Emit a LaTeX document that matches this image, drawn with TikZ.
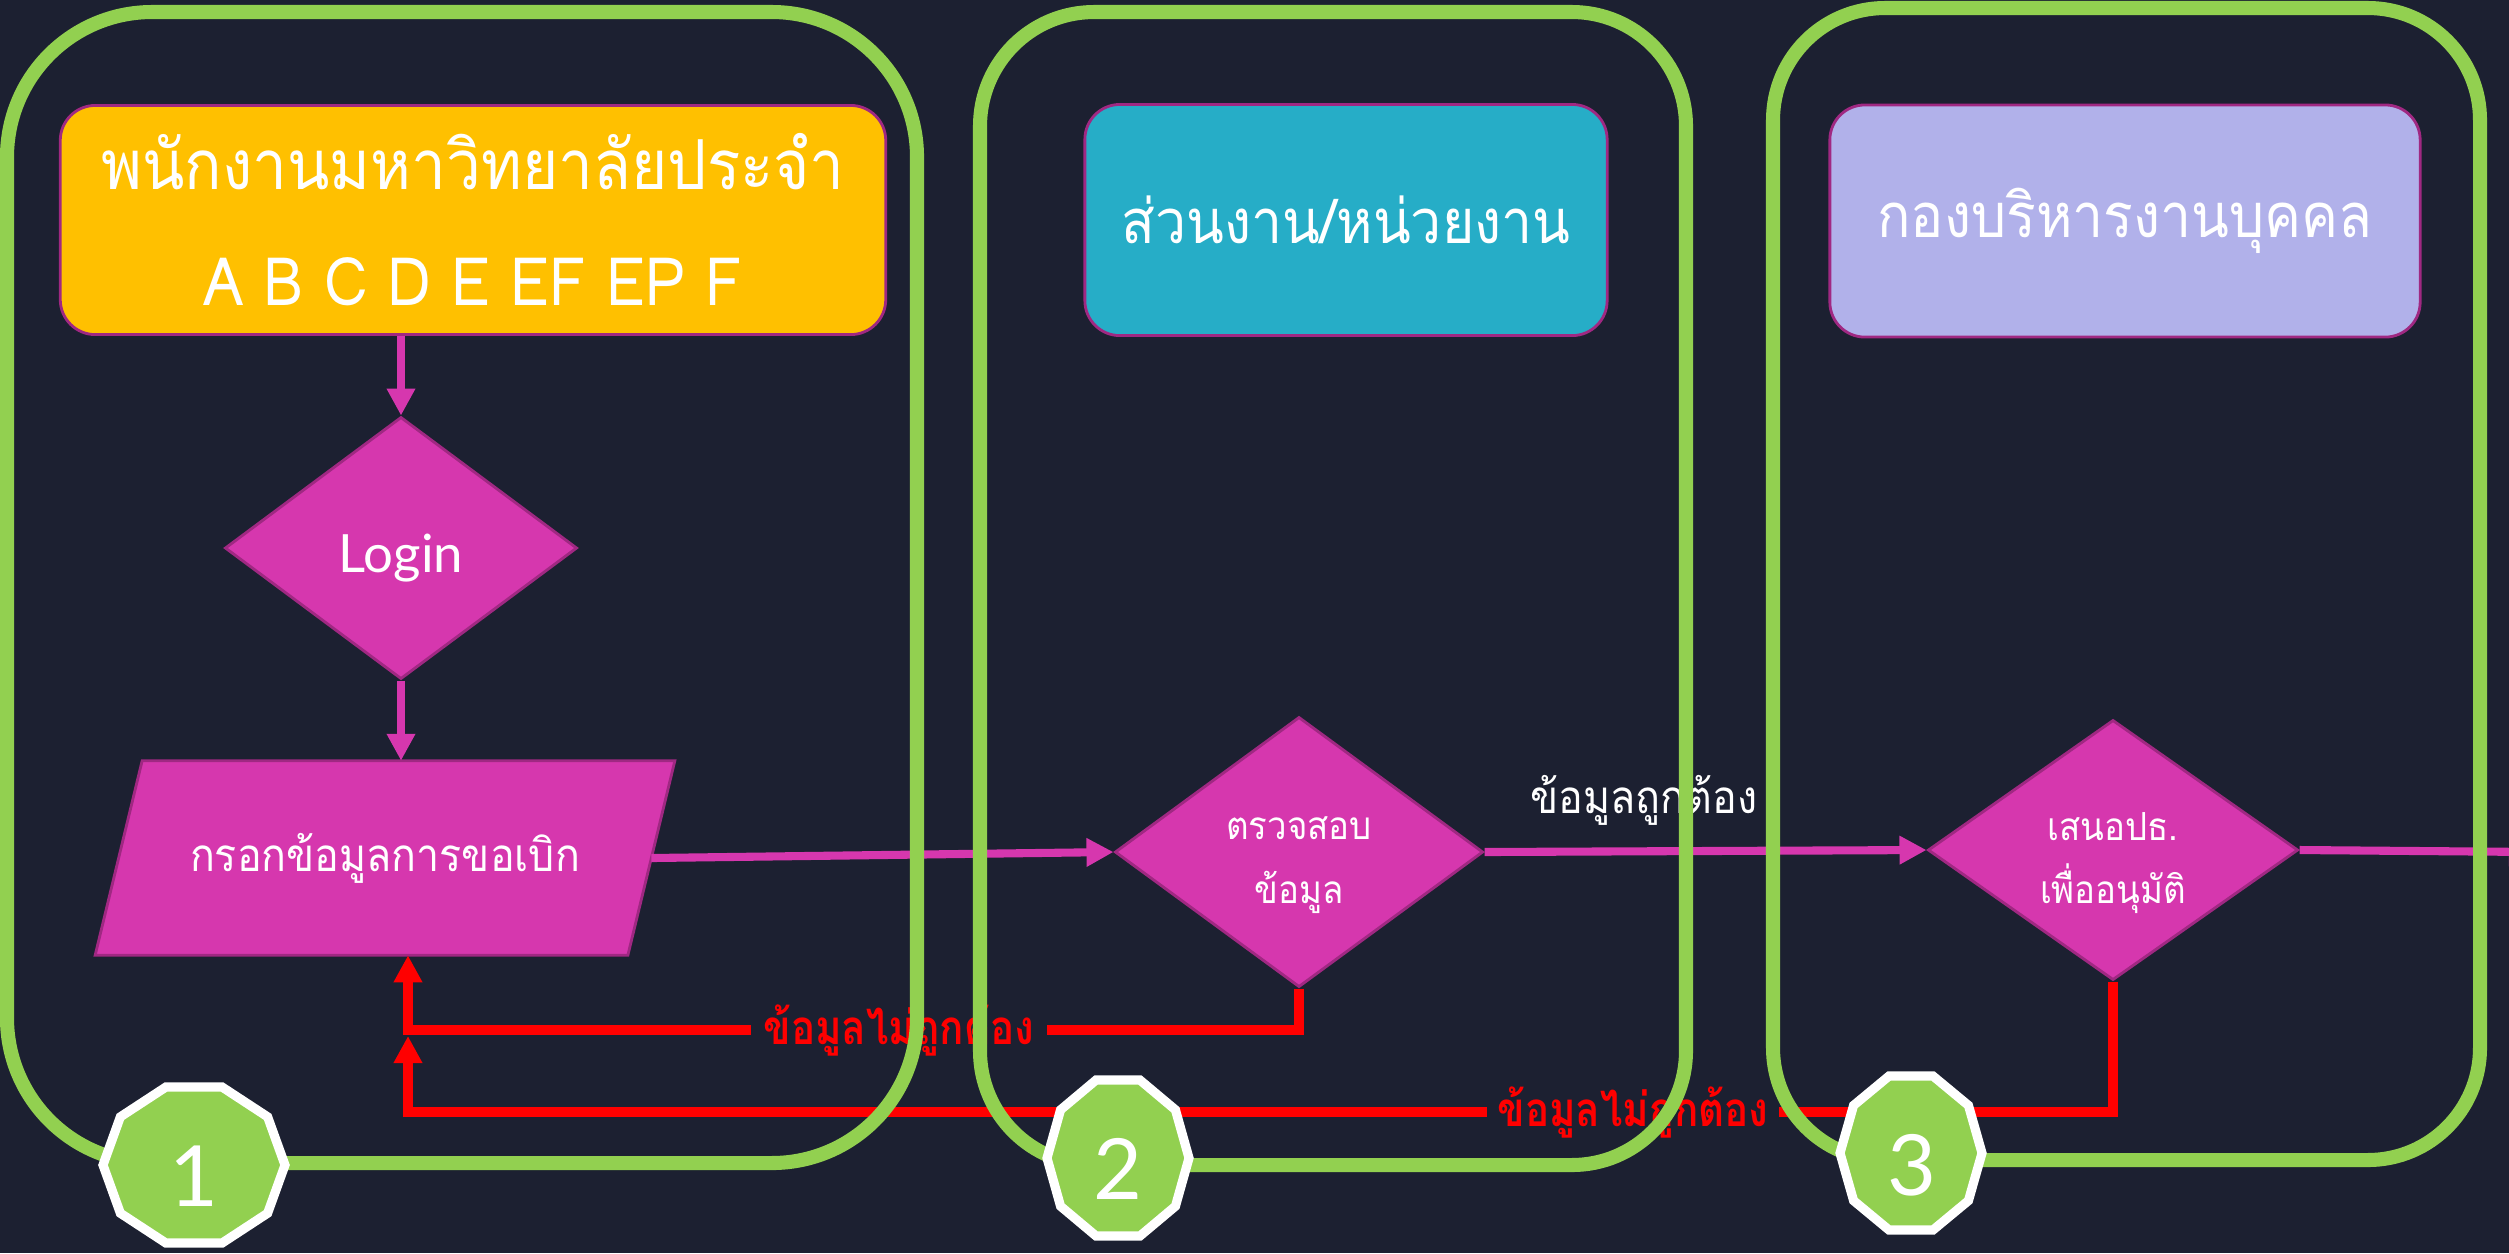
\documentclass[tikz,border=0pt]{standalone}
\usepackage{fontspec}
\newfontfamily\thai[Script=Thai,FakeStretch=0.9]{Loma}
\newfontfamily\thaired[Script=Thai,FakeStretch=0.85]{Loma}
\newfontfamily\latn{Lato}
\usetikzlibrary{shapes.geometric,calc,arrows.meta}
\definecolor{bgc}{HTML}{1C2031}
\definecolor{lanegreen}{HTML}{92D050}
\definecolor{mag}{HTML}{D637AE}
\definecolor{magedge}{HTML}{A02882}
\definecolor{orng}{HTML}{FFC000}
\definecolor{cyn}{HTML}{26ADC7}
\definecolor{lav}{HTML}{B1B1EA}
\definecolor{rd}{HTML}{FF0000}
\pgfdeclarelayer{ground}
\pgfdeclarelayer{back}
\pgfdeclarelayer{lanes}
\pgfdeclarelayer{badges}
\pgfdeclarelayer{badgetext}
\pgfsetlayers{ground,back,main,lanes,badges,badgetext}
\tikzset{
  hdr/.style={rectangle, rounded corners=0.35cm, draw=magedge, line width=0.8pt, text=white, align=center, inner sep=0pt},
  dec/.style={diamond, fill=mag, draw=magedge, line width=0.8pt, inner sep=0pt},
  dectext/.style={text=white, align=center, inner sep=0pt},
  tip/.style={-{Triangle[length=0.27cm,width=0.27cm]}},
  flow/.style={draw=mag, line width=2.3pt, tip},
  redline/.style={draw=rd, line width=2.8pt},
  redarrow/.style={draw=rd, line width=2.8pt, tip},
  lane/.style={draw=lanegreen, line width=4pt},
  badge/.style={fill=lanegreen, draw=white, line width=2.6pt, line join=miter},
  badgenum/.style={text=white, inner sep=0pt, font=\latn\fontsize{24}{26}\selectfont},
  badlbl/.style={text=rd, inner ysep=0pt, font=\thaired\bfseries\fontsize{13.5}{15}\selectfont},
}
\begin{document}
\begin{tikzpicture}[x=0.01cm,y=-0.01cm]
\begin{pgfonlayer}{ground}
\fill[bgc] (0,0) rectangle (2509,1253);
\end{pgfonlayer}
\useasboundingbox (0,0) rectangle (2509,1253);

% header boxes
\node[hdr, fill=orng, minimum width=8.25cm, minimum height=2.29cm,
      font=\thai\fontsize{19.6}{33}\selectfont] (h1) at (473,220)
      {พนักงานมหาวิทยาลัยประจำ\\{\fontsize{19}{33}\selectfont A B C D E EF EP F}};
\node[hdr, fill=cyn, minimum width=5.22cm, minimum height=2.31cm,
      font=\thai\fontsize{17.5}{20}\selectfont] (h2) at (1346,220) {ส่วนงาน/หน่วยงาน};
\node[hdr, fill=lav, minimum width=5.9cm, minimum height=2.32cm,
      font=\thai\fontsize{17.5}{20}\selectfont] (h3) at (2125,221) {กองบริหารงานบุคคล};

% decisions
\node[dec, minimum width=3.52cm, minimum height=2.62cm] (login) at (401,548) {};
\node[dectext, font=\latn\fontsize{15}{17}\selectfont] (logint) at ($(login)+(0,10)$) {Login};
\node[dec, minimum width=3.68cm, minimum height=2.70cm] (d1) at (1299,852) {};
\node[dectext, font=\thai\fontsize{11}{18}\selectfont] (d1t) at ($(d1)+(0,13)$) {ตรวจสอบ\\ข้อมูล};
\node[dec, minimum width=3.70cm, minimum height=2.60cm] (d2) at (2113,850) {};
\node[dectext, font=\thai\fontsize{11}{18}\selectfont] (d2t) at ($(d2)+(0,13)$) {เสนอปธ.\\เพื่ออนุมัติ};

% parallelogram
\node[inner sep=0pt, minimum width=5.31cm, minimum height=1.93cm, text=white,
      font=\thai\fontsize{13}{15}\selectfont] (pg) at (385,858) {กรอกข้อมูลการขอเบิก};
\begin{pgfonlayer}{back}
\filldraw[fill=mag, draw=magedge, line width=0.8pt]
  ($(pg.north west)+(23.5,0)$) -- ($(pg.north east)+(23.5,0)$) --
  ($(pg.south east)+(-23.5,0)$) -- ($(pg.south west)+(-23.5,0)$) -- cycle;
\end{pgfonlayer}

% magenta connectors
\draw[flow] (login.north |- h1.south) -- (login.north);
\draw[flow] (login.south) -- (login.south |- pg.north);
\draw[flow] (pg.east) -- (d1.west);
\draw[flow] (d1.east) -- (d2.west);
\node[text=white, inner sep=0pt, font=\thai\fontsize{13}{15}\selectfont] (okl) at (1644,800) {ข้อมูลถูกต้อง};
\coordinate (offr) at (2536,852);
\draw[flow] (d2.east) -- (offr);

% red return connectors
\coordinate (r1) at ($(pg.south)+(23,0)$);
\coordinate (r2) at (408,1036);
\node[badlbl, inner xsep=0.12cm] (bad1) at (899,1030) {ข้อมูลไม่ถูกต้อง};
\draw[redline] (d1.south) |- (bad1.east);
\draw[redarrow] (bad1.west) -| (r1);
\node[badlbl, inner xsep=0.1cm] (bad2) at (1633,1112) {ข้อมูลไม่ถูกต้อง};
\draw[redline] (d2.south) |- (bad2.east);
\draw[redarrow] (bad2.west) -| (r2);

% lanes
\begin{pgfonlayer}{lanes}
\draw[lane, rounded corners=1.45cm] (7,12) rectangle (917,1163);
\draw[lane, rounded corners=1.14cm] (980,12) rectangle (1686,1165);
\draw[lane, rounded corners=1.12cm] (1773,8) rectangle (2480,1160);
\end{pgfonlayer}

% badges
\begin{pgfonlayer}{badgetext}
\node[badgenum] (b1) at (194,1176) {1};
\node[badgenum] (b2) at (1118,1169) {2};
\node[badgenum] (b3) at (1912,1165) {3};
\end{pgfonlayer}
\begin{pgfonlayer}{badges}
\draw[badge, shift={($(b1)+(0,-11)$)}] (0:91 and 82) \foreach \a in {36,72,...,324}{ -- (\a:91 and 82)} -- cycle;
\draw[badge, shift={($(b2)+(0,-11)$)}] (0:71 and 82) \foreach \a in {36,72,...,324}{ -- (\a:71 and 82)} -- cycle;
\draw[badge, shift={($(b3)+(-1,-12)$)}] (0:71 and 81) \foreach \a in {36,72,...,324}{ -- (\a:71 and 81)} -- cycle;
\end{pgfonlayer}
\end{tikzpicture}
\end{document}
